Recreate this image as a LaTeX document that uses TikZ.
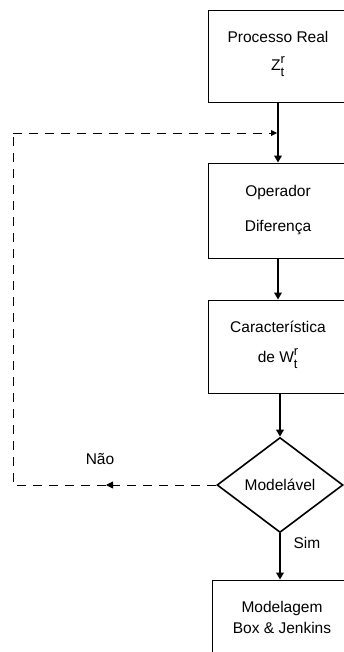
\documentclass[tikz,border=0pt]{standalone}
\usepackage{fontspec}
\setmainfont{Liberation Sans}
\usetikzlibrary{shapes.geometric,arrows.meta}
\newcommand{\rtstack}{\raisebox{0.5pt}{\fontsize{13}{13}\selectfont\begin{tabular}{@{}l@{}}r\\[0pt]t\end{tabular}}}
\begin{document}
\begin{tikzpicture}[x=1pt,y=-1pt,
  every node/.style={font=\fontsize{15.5}{18}\selectfont},
  stepbox/.style={draw,line width=0.9pt,minimum width=140pt,align=center,inner sep=0pt},
  decide/.style={draw,diamond,line width=1.6pt,minimum width=126pt,minimum height=95pt,inner sep=0pt,aspect=1.33},
  arr/.style={line width=2pt,-{Triangle[length=7pt,width=7.5pt]}},
  dsh/.style={line width=0.9pt,dash pattern=on 9pt off 7pt},
  lbl/.style={inner sep=0pt}]
\useasboundingbox (0,0) rectangle (344,652);
\node[stepbox,minimum height=92pt] (b1) at (278,56) {Processo Real\\[10pt]Z\rtstack};
\node[stepbox,minimum height=95pt] (b2) at (278,210.5) {Operador\\[17pt]Diferença};
\node[stepbox,minimum height=93pt] (b3) at (278,346.5) {Característica\\[12pt]de W\rtstack};
\node[decide] (dm) at (280,485) {Modelável};
\node[stepbox,minimum height=74pt] (b4) at (282,617) {Modelagem\\[3pt]Box \& Jenkins};
\node[lbl] (nao) at (100,459) {Não};
\node[lbl] (sim) at (307,543) {Sim};
\coordinate (nl) at (106,485);
\coordinate (cl) at (13,485);
\coordinate (ct) at (13,133);
\coordinate (ja) at (277,133);
\draw[arr] (b1.south) -- (b2.north);
\draw[arr] (b2.south) -- (b3.north);
\draw[arr] (b3.south -| dm.north) -- (dm.north);
\draw[arr] (dm.south) -- (dm.south |- b4.north);
\draw[dsh,-{Triangle[length=7pt,width=7pt]}] (dm.west) -- (nl);
\draw[dsh] (nl) -- (cl) -- (ct);
\draw[dsh,-{Triangle[length=6pt,width=6pt]}] (ct) -- (ja);
\end{tikzpicture}
\end{document}
